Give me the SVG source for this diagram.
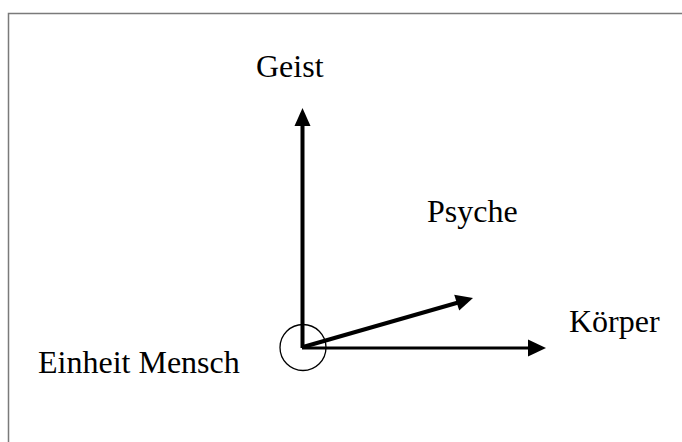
<svg xmlns="http://www.w3.org/2000/svg" width="682" height="442" viewBox="0 0 682 442">
<defs>
<style>
.lbl{font-family:"Liberation Serif","Times New Roman",serif;font-size:32px;fill:#000}
.ax{stroke:#000;fill:none}
.hd{fill:#000;stroke:none}
</style>
</defs>
<rect width="682" height="442" fill="#fff"/>
<path d="M8.5,450 V13.5 H690" fill="none" stroke="#7a7a7a" stroke-width="1.5"/>
<g id="connectors">
<line class="ax" x1="302.5" y1="348" x2="302.5" y2="122" stroke-width="4"/>
<path class="hd" d="M302.5,108 L310.5,126 L294.5,126 Z"/>
<line class="ax" x1="302" y1="348" x2="531" y2="348" stroke-width="3"/>
<path class="hd" d="M546,348 L528,339.5 L528,356.5 Z"/>
<line class="ax" x1="303" y1="347" x2="460" y2="302" stroke-width="4"/>
<path class="hd" d="M473,298 L459.2,310.6 L454.2,294.8 Z"/>
</g>
<g id="einheit">
<circle cx="303" cy="347.5" r="23" fill="none" stroke="#000" stroke-width="1.3"/>
<text class="lbl" x="38" y="373">Einheit Mensch</text>
</g>
<g id="geist"><text class="lbl" x="256" y="77">Geist</text></g>
<g id="psyche"><text class="lbl" x="427" y="222">Psyche</text></g>
<g id="koerper"><text class="lbl" x="569" y="332">Körper</text></g>
</svg>
